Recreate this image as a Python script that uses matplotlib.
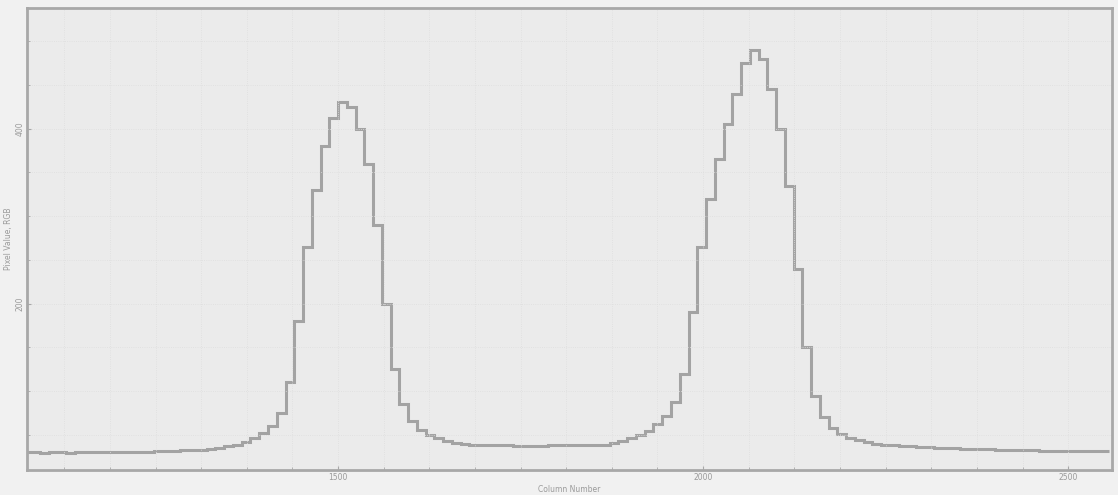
import matplotlib.pyplot as plt
import numpy as np
from matplotlib.ticker import AutoMinorLocator

# column profile, one value per 12-column bin starting at column 1068
bin_start = 1068
bin_width = 12
pixel_values = [
    30, 30, 29, 30, 30, 29, 30, 30, 30, 31,
    30, 30, 31, 31, 31, 32, 32, 32, 33, 33,
    33, 34, 35, 37, 39, 42, 46, 52, 60, 75,
    110, 180, 265, 330, 380, 412, 430, 425, 400, 360,
    290, 200, 125, 85, 66, 56, 50, 46, 43, 41,
    40, 39, 39, 38, 38, 38, 37, 37, 37, 37,
    38, 38, 38, 38, 39, 39, 39, 41, 43, 46,
    50, 55, 62, 72, 88, 120, 190, 265, 320, 365,
    405, 440, 475, 490, 480, 445, 400, 335, 240, 150,
    95, 70, 58, 51, 47, 44, 42, 40, 39, 38,
    37, 37, 36, 36, 35, 35, 35, 34, 34, 34,
    34, 33, 33, 33, 33, 33, 32, 32, 32, 32,
    32, 32, 32, 32,
]
x_ticks = [1500, 2000, 2500]
x_tick_labels = ["1500", "2000", "2500"]
y_ticks = [200, 400]
y_tick_labels = ["200", "400"]

edges = bin_start + bin_width * np.arange(len(pixel_values) + 1)

fig = plt.figure(figsize=(11.18, 4.95), dpi=100, facecolor="#f1f1f1")
ax = fig.add_axes([0.0242, 0.0505, 0.9704, 0.9335])
ax.set_facecolor("#ebebeb")

ax.stairs(pixel_values, edges, color="#a3a3a3", linewidth=2.2, baseline=None)

ax.set_xlim(1074, 2560)
ax.set_ylim(10, 538)
ax.set_xticks(x_ticks, x_tick_labels)
ax.set_yticks(y_ticks, y_tick_labels)
ax.xaxis.set_minor_locator(AutoMinorLocator(8))
ax.yaxis.set_minor_locator(AutoMinorLocator(4))
ax.grid(which="both", color="#dedede", linestyle=":", linewidth=0.6)

for sp in ax.spines.values():
    sp.set_color("#a8a8a8")
    sp.set_linewidth(2)

ax.tick_params(which="both", direction="in", colors="#a8a8a8", labelcolor="#9a9a9a",
               labelsize=5.5, length=3, pad=2)
ax.tick_params(which="minor", length=2)
for lbl in ax.get_yticklabels():
    lbl.set_rotation(90)
    lbl.set_va("center")

ax.set_xlabel("Column Number", fontsize=5.5, color="#9a9a9a", labelpad=2)
ax.set_ylabel("Pixel Value, RGB", fontsize=5.5, color="#9a9a9a", labelpad=2)

fig.savefig("out.png", dpi=100, facecolor=fig.get_facecolor())
